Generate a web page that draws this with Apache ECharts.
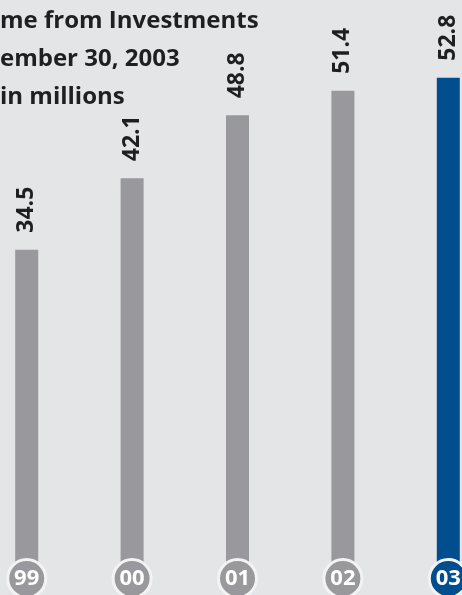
<!DOCTYPE html>
<html>
<head>
<meta charset="utf-8">
<script src="https://cdn.jsdelivr.net/npm/echarts@6/dist/echarts.min.js"></script>
<style>
  html, body { margin: 0; padding: 0; background: #e4e5e7; }
  #chart { width: 462px; height: 595px; }
</style>
</head>
<body>
<div id="chart"></div>
<script>
// visible part of the heading (cut at left edge in the original)
var titleLines = ['me from Investments', 'ember 30, 2003', 'in millions'];
var years = ['99', '00', '01', '02', '03'];
var income = [34.5, 42.1, 48.8, 51.4, 52.8];

var grey = '#99989d';
var blue = '#004e8e';

var dom = document.getElementById('chart');
var myChart = echarts.init(dom);

var circle = function (color) {
    return {
        backgroundColor: color,
        color: '#fff',
        borderColor: '#f3f3f4',
        borderWidth: 3,
        borderRadius: 19,
        width: 35,
        height: 35,
        lineHeight: 35,
        align: 'center',
        fontSize: 22,
        fontWeight: 'bold',
        fontFamily: 'Open Sans'
    };
};

var option = {
    backgroundColor: '#e4e5e7',
    animation: false,
    title: {
        text: titleLines.join('\n'),
        left: 0,
        top: 2,
        padding: 0,
        textStyle: {
            fontFamily: 'Open Sans',
            fontWeight: 'bold',
            fontSize: 24,
            lineHeight: 38,
            color: '#1f1f22'
        }
    },
    grid: {
        left: -26,
        width: 527,
        top: 10,
        bottom: 21,
        outerBoundsMode: 'none',
        containLabel: false
    },
    xAxis: {
        type: 'category',
        data: years,
        z: 10,
        axisLine: { show: false },
        axisTick: { show: false },
        axisLabel: {
            margin: -13,
            interval: 0,
            formatter: function (v, i) {
                return (i === years.length - 1 ? '{hi|' : '{lo|') + v + '}';
            },
            rich: {
                lo: circle(grey),
                hi: circle(blue)
            }
        }
    },
    yAxis: {
        type: 'value',
        min: 0,
        max: 60,
        show: false,
        splitLine: { show: false }
    },
    series: [
        {
            type: 'bar',
            barWidth: 23,
            data: income.map(function (v, i) {
                return {
                    value: v,
                    itemStyle: { color: i === income.length - 1 ? blue : grey }
                };
            }),
            label: {
                show: true,
                position: 'top',
                distance: 17,
                rotate: 90,
                align: 'left',
                verticalAlign: 'middle',
                fontFamily: 'Open Sans',
                fontWeight: 'bold',
                fontSize: 23,
                color: '#1f1f22',
                formatter: function (p) { return p.value.toFixed(1); }
            }
        }
    ]
};

myChart.setOption(option, true);
</script>
</body>
</html>
